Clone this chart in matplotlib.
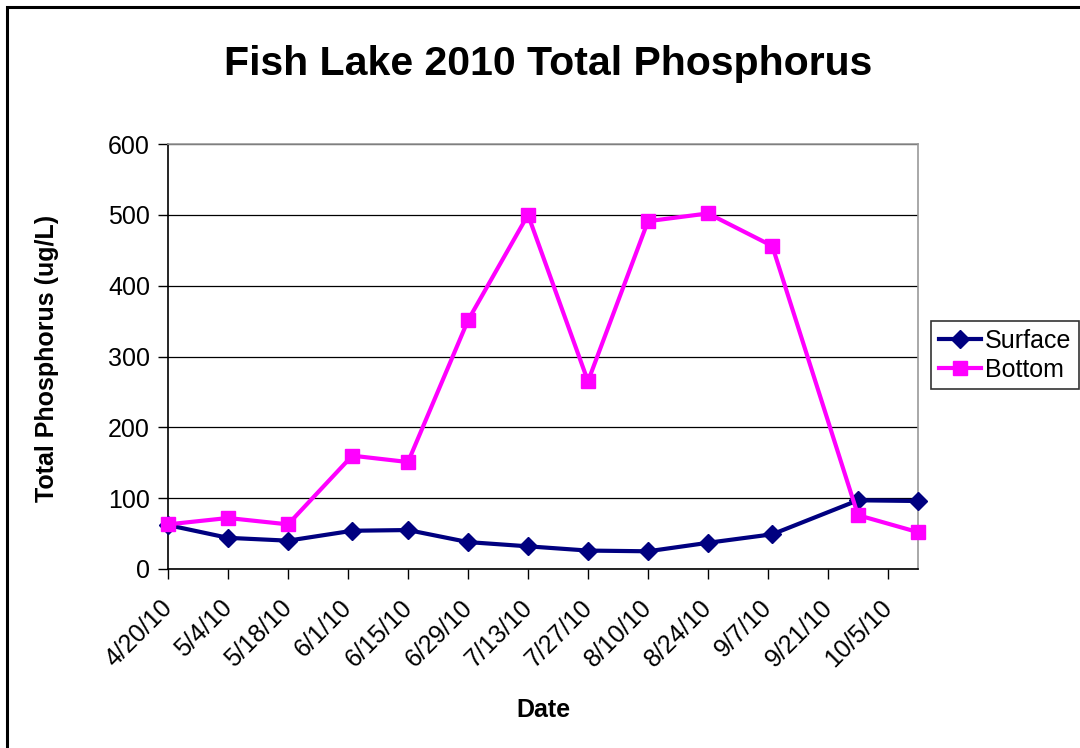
import pandas as pd
import matplotlib
matplotlib.use("Agg")
import matplotlib.pyplot as plt
import matplotlib.transforms as mtransforms
from matplotlib.patches import Rectangle

plt.rcParams['font.family'] = ['Liberation Sans', 'DejaVu Sans']

# ---- data ----
dates = ["2010-04-20", "2010-05-04", "2010-05-18", "2010-06-02", "2010-06-15",
         "2010-06-29", "2010-07-13", "2010-07-27", "2010-08-10", "2010-08-24",
         "2010-09-08", "2010-09-28", "2010-10-12"]
surface = [62, 44, 40, 54, 55, 38, 32, 26, 25, 37, 49, 97, 96]
bottom = [63, 72, 63, 160, 151, 351, 500, 265, 491, 502, 456, 76, 52]

x = pd.to_datetime(dates)

fig = plt.figure(figsize=(10.8, 7.48), dpi=100)
W, H = 1080, 748
# plot area in pixels: left 168, right 918, top 144, bottom 569
ax = fig.add_axes([168 / W, 1 - 569 / H, (918 - 168) / W, (569 - 144) / H])

# outer chart border (clipped at right/bottom like the source)
fig.patches.append(Rectangle((7 / W, -0.05), 1.2, 1 - 7 / H + 0.05,
                             transform=fig.transFigure, fill=False,
                             edgecolor='black', linewidth=2.2, zorder=10))

ax.plot(x, surface, color='#000080', linewidth=3, marker='D', markersize=9,
        label='Surface', zorder=3, clip_on=False)
ax.plot(x, bottom, color='#FF00FF', linewidth=3, marker='s', markersize=10,
        label='Bottom', zorder=3, clip_on=False)

ax.set_ylim(0, 600)
ax.set_yticks(range(0, 601, 100))
ax.yaxis.grid(True, color='black', linewidth=0.9)
ax.set_axisbelow(True)

ax.set_xlim(pd.Timestamp("2010-04-20"), pd.Timestamp("2010-10-12"))
ticks = pd.date_range("2010-04-20", "2010-10-05", freq="14D")
ax.set_xticks(ticks)
ax.set_xticklabels([f"{d.month}/{d.day}/{d:%y}" for d in ticks],
                   rotation=45, ha='right', rotation_mode='anchor')

ax.tick_params(axis='both', direction='out', length=7, width=1,
               labelsize=18, pad=6)
ax.tick_params(axis='x', pad=12)

# nudge the date labels a bit left, like the Excel original
shift = mtransforms.ScaledTranslation(-8 / 100, 0, fig.dpi_scale_trans)
for lab in ax.get_xticklabels():
    lab.set_transform(lab.get_transform() + shift)

for s in ['left', 'bottom']:
    ax.spines[s].set_color('black')
    ax.spines[s].set_linewidth(1.2)
for s in ['right', 'top']:
    ax.spines[s].set_color('#999999')
    ax.spines[s].set_linewidth(1.2)

fig.text(548 / W, 1 - 64 / H, "Fish Lake 2010 Total Phosphorus",
         ha='center', va='center', fontsize=29.5, fontweight='bold')
fig.text(47 / W, 1 - 358 / H, "Total Phosphorus (ug/L)", rotation=90,
         ha='center', va='center', fontsize=18, fontweight='bold')
fig.text(543 / W, 1 - 710 / H, "Date", ha='center', va='center',
         fontsize=18, fontweight='bold')

leg = fig.legend(loc='upper left', bbox_to_anchor=(931 / W, 1 - 321 / H),
                 frameon=True, fancybox=False, fontsize=18, handlelength=1.7,
                 handletextpad=0.15, borderpad=0.3, labelspacing=0.2,
                 borderaxespad=0)
leg.get_frame().set_edgecolor('black')
leg.get_frame().set_linewidth(1.2)

fig.savefig("out.png", dpi=100)
